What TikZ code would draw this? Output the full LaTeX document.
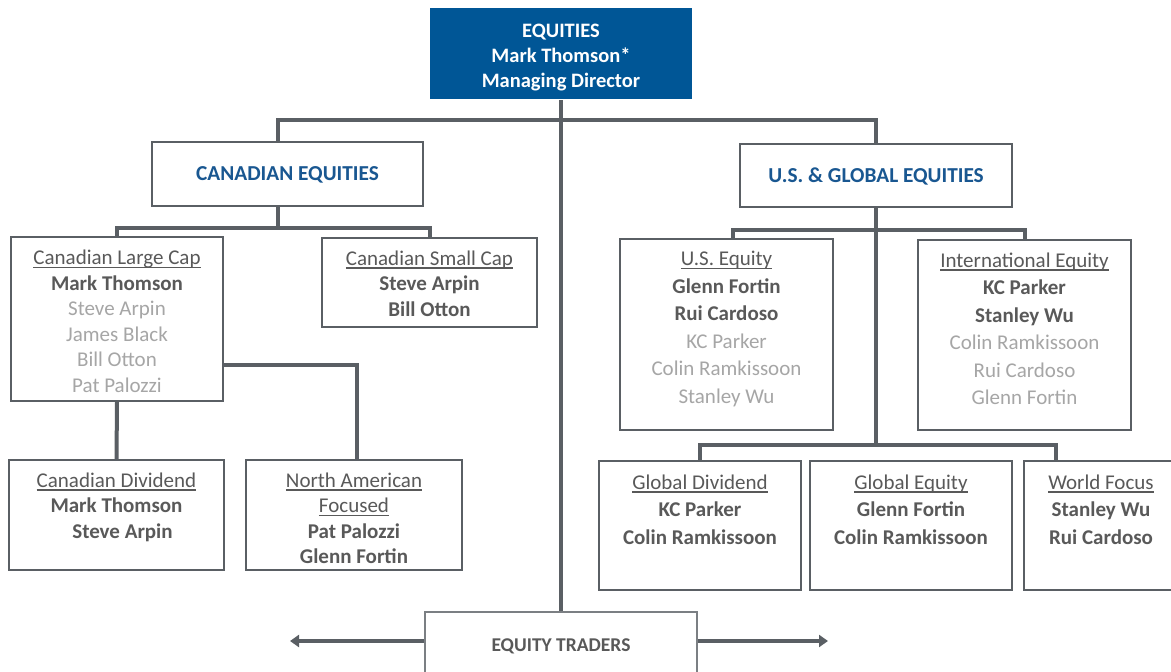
\documentclass[tikz,border=0pt]{standalone}
\usepackage{fontspec}
\setmainfont{Carlito}
\usetikzlibrary{positioning,arrows.meta}

\definecolor{eqblue}{RGB}{0,86,150}
\definecolor{headblue}{RGB}{25,87,145}
\definecolor{wire}{RGB}{90,95,100}
\definecolor{ink}{RGB}{89,89,89}
\definecolor{lite}{RGB}{166,166,166}

\newsavebox{\ttlbox}
\newcommand{\ttl}[1]{\sbox{\ttlbox}{#1}\rlap{\rule[-3.5pt]{\wd\ttlbox}{1.2pt}}\usebox{\ttlbox}}
\newcommand{\mgr}[1]{\textbf{#1}}
\newcommand{\bench}[1]{\textcolor{lite}{#1}}

\tikzset{
  unit/.style={draw=wire, line width=2.4pt, fill=white, inner sep=0pt},
  head/.style={unit, line width=1.8pt, text=headblue, text depth=0pt, font=\bfseries\fontsize{21.3}{25}\selectfont},
  roster/.style={align=center, inner sep=0pt, text=ink, font=\fontsize{21}{25.5}\selectfont},
  wideroster/.style={roster, font=\fontsize{21}{27.5}\selectfont},
  link/.style={draw=wire, line width=4pt},
  arrow/.style={link, line width=3.5pt, -{Triangle[length=9pt,width=12pt]}},
}

\begin{document}
\begin{tikzpicture}[x=1pt, y=-1pt]

\clip (0,0) rectangle (1171,672);

% top of the tree
\node[unit, draw=none, fill=eqblue, minimum width=262pt, minimum height=91pt] (eq) at (561,53.5) {};
\node[align=center, inner sep=0pt, text=white, font=\bfseries\fontsize{20.5}{25}\selectfont,
  below=17pt of eq.north] (eqnames) {EQUITIES\\Mark Thomson*\\Managing Director};
\node[head, minimum width=271pt, minimum height=64pt] (can) at (287.5,174) {CANADIAN EQUITIES};
\node[head, minimum width=272pt, minimum height=63pt] (usg) at (876,175.5) {U.S. \& GLOBAL EQUITIES};

% canadian side
\node[unit, minimum width=212pt, minimum height=164pt] (lcap) at (117,319) {};
\node[unit, minimum width=215pt, minimum height=89pt] (scap) at (429.5,282.5) {};
\node[unit, minimum width=215pt, minimum height=110pt] (cdiv) at (116.5,515) {};
\node[unit, minimum width=216pt, minimum height=110pt] (naf) at (354,515) {};

\node[roster, below=14pt of lcap.north] (lcapnames) {\ttl{Canadian Large Cap}\\\mgr{Mark Thomson}\\\bench{Steve Arpin}\\\bench{James Black}\\\bench{Bill Otton}\\\bench{Pat Palozzi}};
\node[roster, below=13.5pt of scap.north] (scapnames) {\ttl{Canadian Small Cap}\\\mgr{Steve Arpin}\\\mgr{Bill Otton}};
\node[roster, below=13.5pt of cdiv.north] (cdivnames) {\ttl{Canadian Dividend}\\\mgr{Mark Thomson}\\\mgr{\hspace{12pt}Steve Arpin}};
\node[roster, below=13.5pt of naf.north] (nafnames) {\ttl{North American}\\\ttl{Focused}\\\mgr{Pat Palozzi}\\\mgr{Glenn Fortin}};

% u.s. and global side
\node[unit, minimum width=213pt, minimum height=191pt] (useq) at (726.5,334.5) {};
\node[unit, minimum width=213pt, minimum height=190pt] (intl) at (1024.5,335) {};
\node[unit, minimum width=202pt, minimum height=129pt] (gdiv) at (700,525.5) {};
\node[unit, minimum width=202pt, minimum height=129pt] (geq) at (911,525.5) {};
\node[unit, minimum width=154pt, minimum height=129pt] (wfoc) at (1101,525.5) {};

\node[wideroster, below=13.5pt of useq.north] (useqnames) {\ttl{U.S. Equity}\\\mgr{Glenn Fortin}\\\mgr{Rui Cardoso}\\\bench{KC Parker}\\\bench{Colin Ramkissoon}\\\bench{Stanley Wu}};
\node[wideroster, below=13.5pt of intl.north] (intlnames) {\ttl{International Equity}\\\mgr{KC Parker}\\\mgr{Stanley Wu}\\\bench{Colin Ramkissoon}\\\bench{Rui Cardoso}\\\bench{Glenn Fortin}};
\node[wideroster, below=14.5pt of gdiv.north] (gdivnames) {\ttl{Global Dividend}\\\mgr{KC Parker}\\\mgr{Colin Ramkissoon}};
\node[wideroster, below=14.5pt of geq.north] (geqnames) {\ttl{Global Equity}\\\mgr{Glenn Fortin}\\\mgr{Colin Ramkissoon}};
\node[wideroster, below=14.5pt of wfoc.north] (wfocnames) {\ttl{World Focus}\\\mgr{Stanley Wu}\\\mgr{Rui Cardoso}};

% traders
\node[unit, line width=1.8pt, draw=wire!80, minimum width=272pt, minimum height=66pt, text=ink, text depth=0pt,
  font=\bfseries\fontsize{19.5}{23}\selectfont] (traders) at (561,645) {EQUITY TRADERS};

% connectors
\coordinate (topbus) at (561,120);
\coordinate (canbus) at (278,228);
\coordinate (usbus) at (876,230);
\coordinate (glbus) at (876,445);
\coordinate (tradeL) at (290,641);
\coordinate (tradeR) at (828,641);

\draw[link] (eq.south) -- (traders.north);
\draw[link] ([xshift=-9.5pt]can.north) |- (topbus) -| (usg.north);
\draw[link] ([xshift=-9.5pt]can.south) -- (canbus);
\draw[link] (lcap.north) |- (canbus) -| (scap.north);
\draw[link] (lcap.south) -- (cdiv.north);
\draw[link] (lcap.east |- 0,365) -| ([xshift=3pt]naf.north);
\draw[link] (usg.south) -- (glbus);
\draw[link] ([xshift=6pt]useq.north) |- (usbus) -| (intl.north);
\draw[link] (gdiv.north) |- (glbus) -| ([xshift=-45pt]wfoc.north);
\draw[arrow] (traders.west |- tradeL) -- (tradeL);
\draw[arrow] (traders.east |- tradeR) -- (tradeR);

\end{tikzpicture}
\end{document}
